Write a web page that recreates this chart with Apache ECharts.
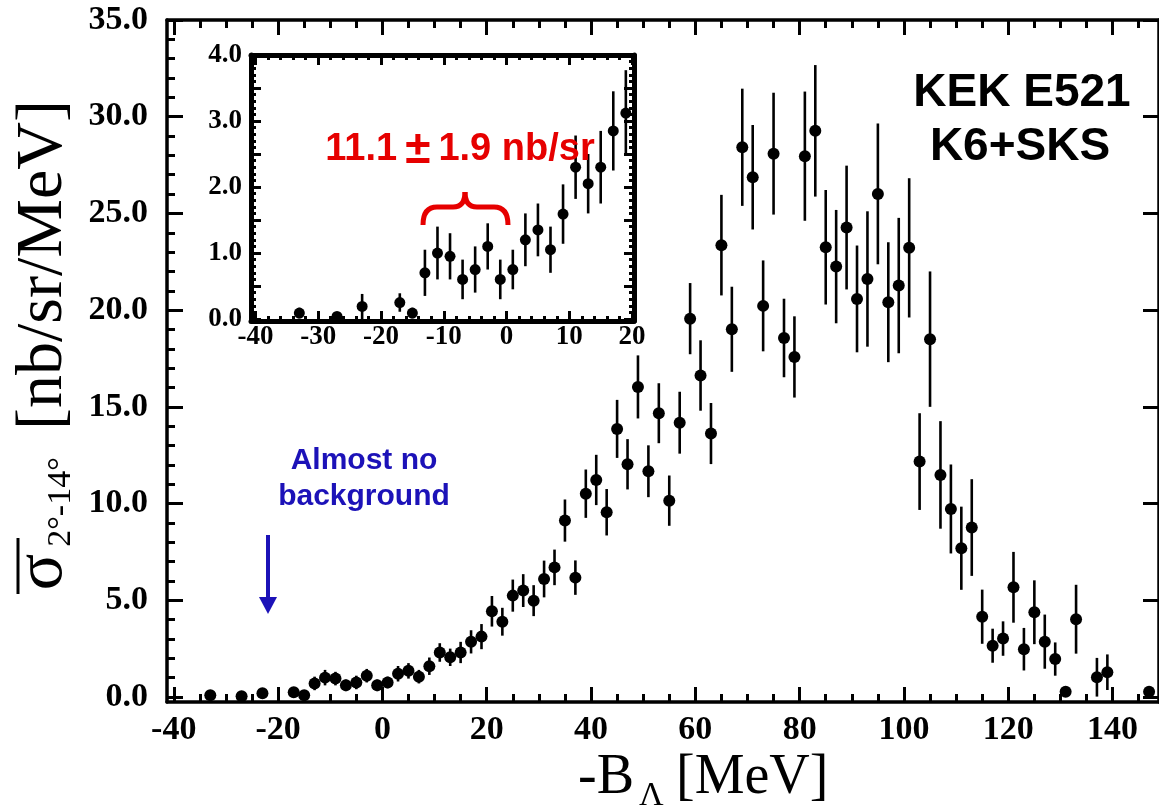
<!DOCTYPE html>
<html>
<head>
<meta charset="utf-8">
<script src="https://cdn.jsdelivr.net/npm/echarts@6/dist/echarts.min.js"></script>
<style>
  html, body { margin: 0; padding: 0; background: #fff; }
  #main { width: 1159px; height: 806px; }
</style>
</head>
<body>
<div id="main"></div>
<script>
// -B_Lambda bin centres [MeV]
const energy = [-33, -27, -23, -17, -15, -13, -11, -9, -7, -5, -3, -1, 1, 3, 5, 7, 9, 11, 13, 15, 17, 19,
  21, 23, 25, 27, 29, 31, 33, 35, 37, 39, 41, 43, 45, 47, 49, 51, 53, 55, 57, 59, 61, 63, 65, 67, 69, 71,
  73, 75, 77, 79, 81, 83, 85, 87, 89, 91, 93, 95, 97, 99, 101, 103, 105, 107, 109, 111, 113, 115, 117,
  119, 121, 123, 125, 127, 129, 131, 133, 137, 139, 147];
// cross section [nb/sr/MeV]
const xsec = [0.09, 0.04, 0.19, 0.25, 0.09, 0.70, 1.00, 0.95, 0.60, 0.75, 1.10, 0.60, 0.75, 1.20, 1.35, 1.05,
  1.59, 2.30, 2.05, 2.30, 2.85, 3.12, 4.43, 3.89, 5.24, 5.50, 4.98, 6.10, 6.70, 9.12, 6.17, 10.51, 11.22,
  9.55, 13.86, 12.03, 16.03, 11.67, 14.67, 10.15, 14.18, 19.56, 16.62, 13.62, 23.36, 19.01, 28.42, 26.87,
  20.22, 28.09, 18.56, 17.58, 27.96, 29.27, 23.25, 22.25, 24.27, 20.58, 21.61, 26.01, 20.41, 21.27, 23.22,
  12.17, 18.50, 11.48, 9.72, 7.69, 8.76, 4.15, 2.65, 3.02, 5.67, 2.47, 4.38, 2.86, 1.96, 0.27, 4.02, 1.02,
  1.28, 0.27];
const xsecErr = [0.08, 0.05, 0.19, 0.14, 0.08, 0.35, 0.40, 0.35, 0.30, 0.35, 0.35, 0.30, 0.30, 0.40, 0.40, 0.35,
  0.45, 0.48, 0.45, 0.55, 0.60, 0.65, 0.79, 0.72, 0.83, 0.85, 0.80, 0.95, 0.92, 1.09, 0.89, 1.25, 1.30, 1.20,
  1.50, 1.30, 1.63, 1.34, 1.55, 1.30, 1.60, 1.84, 1.82, 1.58, 2.60, 2.20, 3.03, 2.70, 2.35, 3.15, 2.03, 2.10,
  3.34, 3.40, 2.96, 2.93, 3.20, 2.76, 3.50, 3.64, 3.10, 3.50, 3.60, 2.50, 3.50, 2.78, 2.30, 2.15, 2.50, 1.40,
  0.88, 0.89, 1.83, 1.10, 1.65, 1.40, 0.86, 0.10, 1.78, 1.00, 0.92, 0.10];

// tick labels
const mainXTicks = [-40, -20, 0, 20, 40, 60, 80, 100, 120, 140];
const mainYTicks = [0, 5, 10, 15, 20, 25, 30, 35];
const insetXTicks = [-40, -30, -20, -10, 0, 10, 20];
const insetYTicks = [0, 1, 2, 3, 4];

function steps(from, to, step, skip) {
  const out = [];
  for (let v = from; v <= to + 1e-9; v += step) {
    const r = Math.round(v * 100) / 100;
    if (!skip.some(s => Math.abs(s - r) < 1e-6)) out.push(r);
  }
  return out;
}
const mainXMinor = steps(-40, 145, 5, mainXTicks);
const mainYMinor = steps(0, 34, 1, mainYTicks);
const insetXMinor = steps(-40, 20, 2, insetXTicks);
const insetYMid = [0.5, 1.5, 2.5, 3.5];
const insetYMinor = steps(0, 4, 0.1, insetYTicks.concat(insetYMid));

const points = energy.map((e, i) => [e, xsec[i], xsecErr[i]]);
const insetPoints = points.filter(p => p[0] >= -40 && p[0] <= 20);

const serifBold = { fontFamily: 'Liberation Serif', fontWeight: 'bold', color: '#000' };

function xAx(grid, pos, min, max, ticks, len, lw, labels, showLine, fontSize, margin) {
  return {
    type: 'value', gridIndex: grid, position: pos, min: min, max: max,
    axisLine: { show: showLine, onZero: false, lineStyle: { color: '#000', width: lw } },
    axisTick: { show: true, inside: true, length: len, customValues: ticks, lineStyle: { color: '#000', width: 3 } },
    axisLabel: labels ? Object.assign({ show: true, customValues: ticks, fontSize: fontSize, margin: margin }, serifBold) : { show: false },
    splitLine: { show: false }
  };
}
function yAx(grid, pos, min, max, ticks, len, lw, labels, showLine, fontSize, margin) {
  return {
    type: 'value', gridIndex: grid, position: pos, min: min, max: max,
    axisLine: { show: showLine, onZero: false, lineStyle: { color: '#000', width: lw } },
    axisTick: { show: true, inside: true, length: len, customValues: ticks, lineStyle: { color: '#000', width: 3 } },
    axisLabel: labels ? Object.assign({ show: true, customValues: ticks, fontSize: fontSize, margin: margin,
      formatter: v => Number(v).toFixed(1) }, serifBold) : { show: false },
    splitLine: { show: false }
  };
}

function errorBars(xi, yi, data, lw) {
  return {
    type: 'custom', xAxisIndex: xi, yAxisIndex: yi, data: data, silent: true, z: 3,
    renderItem: function (params, api) {
      const x = api.value(0), y = api.value(1), e = api.value(2);
      const lo = api.coord([x, y - e]);
      const hi = api.coord([x, y + e]);
      return { type: 'line', shape: { x1: lo[0], y1: lo[1], x2: hi[0], y2: hi[1] },
        style: { stroke: '#000', lineWidth: lw } };
    }
  };
}

const red = '#e60000', blue = '#1c12b8';
function brace(x1, y1, x2, y2, cx, cy) {
  return { type: 'bezierCurve', z: 20, shape: { x1: x1, y1: y1, x2: x2, y2: y2, cpx1: cx, cpy1: cy },
    style: { stroke: red, lineWidth: 5, fill: null } };
}
function centred(x, y, text, font, fill, rot) {
  return { type: 'text', x: x, y: y, rotation: rot || 0, z: 20,
    style: { text: text, font: font, fill: fill || '#000',
      align: 'center', verticalAlign: 'middle', textAlign: 'center', textVerticalAlign: 'middle' } };
}
function leftText(x, y, text, font) {
  return { type: 'text', x: x, y: y, z: 20,
    style: { text: text, font: font, fill: '#000',
      align: 'left', verticalAlign: 'middle', textAlign: 'left', textVerticalAlign: 'middle' } };
}

const chart = echarts.init(document.getElementById('main'));
const mx = [-41.3, 148.9], my = [-0.26, 35];
const ix = [-40.7, 20.3], iy = [-0.03, 4.0];

chart.setOption({
  animation: false,
  backgroundColor: '#fff',
  grid: [
    { left: 167, top: 20, width: 995, height: 682 },
    { left: 251, top: 55, width: 383, height: 266, show: true, backgroundColor: '#fff', borderWidth: 0, z: 5 }
  ],
  xAxis: [
    xAx(0, 'bottom', mx[0], mx[1], mainXTicks, 15, 3.5, true, true, 34, 11),
    xAx(0, 'bottom', mx[0], mx[1], mainXMinor, 8, 3.5, false, false),
    xAx(0, 'top', mx[0], mx[1], mainXTicks, 15, 3.5, false, true),
    xAx(0, 'top', mx[0], mx[1], mainXMinor, 8, 3.5, false, false),
    Object.assign(xAx(1, 'bottom', ix[0], ix[1], insetXTicks, 10, 5, true, true, 27, 3), { z: 6 }),
    Object.assign(xAx(1, 'bottom', ix[0], ix[1], insetXMinor, 5, 5, false, false), { z: 6 }),
    Object.assign(xAx(1, 'top', ix[0], ix[1], insetXTicks, 10, 5, false, true), { z: 6 }),
    Object.assign(xAx(1, 'top', ix[0], ix[1], insetXMinor, 5, 5, false, false), { z: 6 })
  ],
  yAxis: [
    yAx(0, 'left', my[0], my[1], mainYTicks, 16, 3.5, true, true, 34, 19),
    yAx(0, 'left', my[0], my[1], mainYMinor, 8, 3.5, false, false),
    yAx(0, 'right', my[0], my[1], mainYTicks, 16, 3.5, false, true),
    Object.assign(yAx(1, 'left', iy[0], iy[1], insetYTicks, 10, 5, true, true, 27, 9), { z: 6 }),
    Object.assign(yAx(1, 'left', iy[0], iy[1], insetYMid, 10, 5, false, false), { z: 6 }),
    Object.assign(yAx(1, 'left', iy[0], iy[1], insetYMinor, 5, 5, false, false), { z: 6 }),
    Object.assign(yAx(1, 'right', iy[0], iy[1], insetYTicks.concat(insetYMid), 10, 5, false, true), { z: 6 }),
    Object.assign(yAx(1, 'right', iy[0], iy[1], insetYMinor, 5, 5, false, false), { z: 6 })
  ],
  series: [
    errorBars(0, 0, points, 2.6),
    { type: 'scatter', xAxisIndex: 0, yAxisIndex: 0, data: points, symbol: 'circle', symbolSize: 12,
      itemStyle: { color: '#000', opacity: 1 }, z: 4 },
    Object.assign(errorBars(4, 3, insetPoints, 2.6), { z: 7 }),
    { type: 'scatter', xAxisIndex: 4, yAxisIndex: 3, data: insetPoints, symbol: 'circle', symbolSize: 11,
      itemStyle: { color: '#000', opacity: 1 }, z: 8 }
  ],
  graphic: [
    // y axis title
    centred(44, 265, '[nb/sr/MeV]', '66px "Liberation Serif"', '#000', Math.PI / 2),
    centred(43, 572, 'σ', '68px "Liberation Serif"', '#000', Math.PI / 2),
    { type: 'line', z: 20, shape: { x1: 18, y1: 538, x2: 18, y2: 594 }, style: { stroke: '#000', lineWidth: 3 } },
    centred(61, 502, '2°-14°', '34px "Liberation Serif"', '#000', Math.PI / 2),
    // x axis title
    leftText(578, 778, '-B', '56px "Liberation Serif"'),
    leftText(639, 796, 'Λ', '34px "Liberation Serif"'),
    leftText(676, 778, '[MeV]', '56px "Liberation Serif"'),
    // experiment label
    centred(1022, 93, 'KEK E521', 'bold 46px "Liberation Sans"'),
    centred(1020, 147, 'K6+SKS', 'bold 46px "Liberation Sans"'),
    // inset annotation
    { type: 'text', x: 460, y: 150, z: 20,
      style: { text: '{a|11.1}{pm|±}{a|1.9 nb/sr}', fill: red,
        align: 'center', verticalAlign: 'middle', textAlign: 'center', textVerticalAlign: 'middle',
        rich: {
          a: { font: 'bold 38px "Liberation Sans"', fill: red },
          pm: { font: 'bold 46px "Liberation Sans"', fill: red, padding: [0, 8, 0, 8] }
        } } },
    brace(423, 225, 437, 207, 423, 207),
    { type: 'line', z: 20, shape: { x1: 437, y1: 207, x2: 453, y2: 207 }, style: { stroke: red, lineWidth: 5 } },
    brace(453, 207, 465, 192, 465, 207),
    brace(465, 192, 477, 207, 465, 207),
    { type: 'line', z: 20, shape: { x1: 477, y1: 207, x2: 494, y2: 207 }, style: { stroke: red, lineWidth: 5 } },
    brace(494, 207, 508, 225, 508, 207),
    // background note + arrow
    centred(364, 461, 'Almost no', 'bold 30px "Liberation Sans"', blue),
    centred(364, 497, 'background', 'bold 30px "Liberation Sans"', blue),
    { type: 'line', z: 20, shape: { x1: 268, y1: 535, x2: 268, y2: 600 }, style: { stroke: blue, lineWidth: 4 } },
    { type: 'polygon', z: 20, shape: { points: [[259, 597], [277, 597], [268, 614]] }, style: { fill: blue } }
  ]
});
</script>
</body>
</html>
